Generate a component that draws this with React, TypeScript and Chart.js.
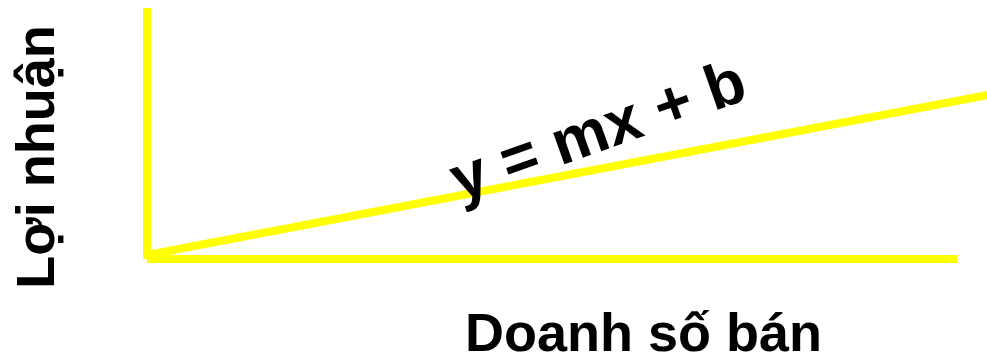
import React, { useEffect, useRef } from "react";
import { Chart, registerables } from "chart.js";

Chart.register(...registerables);

// Conceptual values (sales on x, profit on y)
const xAxisLine = [
  { x: 0, y: 0 },
  { x: 100, y: 0 },
];
const yAxisLine = [
  { x: 0, y: 0 },
  { x: 0, y: 31 },
];
const trendLine = [
  { x: 0, y: 0.5 },
  { x: 104, y: 20.3 },
];
const xTitle = "Doanh số bán";
const yTitle = "Lợi nhuận";
const formula = "y = mx + b";

const YELLOW = "#ffff00";
const FONT = '"Liberation Sans", Arial, sans-serif';

const labelPlugin = {
  id: "diagramLabels",
  afterDatasetsDraw(chart: any) {
    const { ctx, scales } = chart;
    const xs = scales.x;
    const ys = scales.y;
    ctx.save();
    ctx.fillStyle = "#000";
    ctx.textAlign = "center";

    // y title (rotated)
    ctx.save();
    ctx.font = `bold 54px ${FONT}`;
    ctx.translate(xs.getPixelForValue(-13.3), ys.getPixelForValue(12.6));
    ctx.rotate(-Math.PI / 2);
    ctx.textBaseline = "middle";
    ctx.fillText(yTitle, 0, 0);
    ctx.restore();

    // x title
    ctx.save();
    ctx.font = `bold 54px ${FONT}`;
    ctx.textBaseline = "alphabetic";
    ctx.fillText(xTitle, xs.getPixelForValue(61.3), ys.getPixelForValue(-11.3));
    ctx.restore();

    // formula
    ctx.save();
    ctx.font = `bold 63px ${FONT}`;
    ctx.translate(xs.getPixelForValue(55.8), ys.getPixelForValue(15.5));
    ctx.rotate((-19.5 * Math.PI) / 180);
    ctx.textBaseline = "middle";
    ctx.fillText(formula, 0, 0);
    ctx.restore();

    ctx.restore();
  },
};

export default function App() {
  const ref = useRef<HTMLCanvasElement | null>(null);
  useEffect(() => {
    document.body.style.margin = "0";
    const canvas = ref.current;
    if (!canvas) return;
    const lineDs = (data: any[]) => ({
      data,
      borderColor: YELLOW,
      backgroundColor: YELLOW,
      borderWidth: 8,
      borderCapStyle: "butt" as const,
      pointRadius: 0,
      fill: false,
      tension: 0,
    });
    const chart = new Chart(canvas, {
      type: "line",
      data: {
        datasets: [lineDs(yAxisLine), lineDs(xAxisLine), lineDs(trendLine)],
      },
      options: {
        animation: false,
        responsive: false,
        maintainAspectRatio: false,
        devicePixelRatio: 1,
        layout: { padding: 0 },
        plugins: { legend: { display: false }, tooltip: { enabled: false } },
        scales: {
          x: { type: "linear", min: -18.15, max: 103.7, display: false },
          y: { type: "linear", min: -11.85, max: 31.98, display: false },
        },
      },
      plugins: [labelPlugin],
    });
    return () => chart.destroy();
  }, []);
  return (
    <div style={{ position: "fixed", left: 0, top: 0, width: 987, height: 355, background: "#fff" }}>
      <canvas ref={ref} width={987} height={355} style={{ display: "block" }} />
    </div>
  );
}
